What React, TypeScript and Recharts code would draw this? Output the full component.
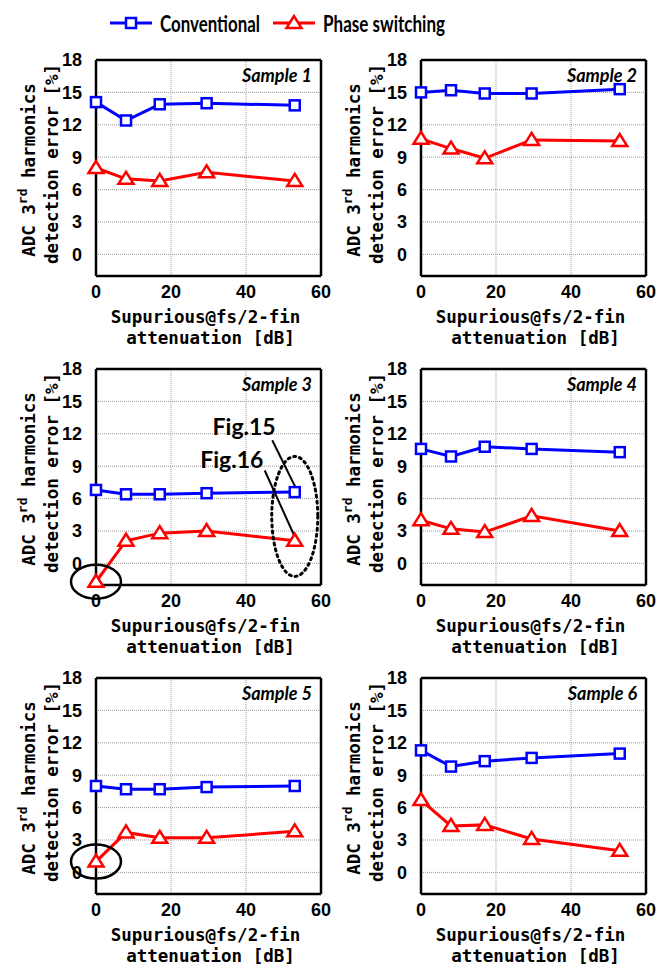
import React from 'react';
import { CartesianGrid, Line, LineChart, ReferenceDot, ReferenceLine, XAxis, YAxis } from 'recharts';

// x positions shared by every sample
const ATTENUATION_DB = [0, 8, 17, 29.5, 53];
const X_TICKS = [0, 20, 40, 60];
const Y_TICKS = [0, 3, 6, 9, 12, 15, 18];
const SERIES_NAMES = ['Conventional', 'Phase switching'];
const SAMPLE_NAMES = ['Sample 1', 'Sample 2', 'Sample 3', 'Sample 4', 'Sample 5', 'Sample 6'];

const CONV_S1 = [14.1, 12.4, 13.9, 14.0, 13.8];
const PHASE_S1 = [8.0, 7.0, 6.8, 7.6, 6.8];
const CONV_S2 = [15.0, 15.2, 14.9, 14.9, 15.3];
const PHASE_S2 = [10.7, 9.8, 8.9, 10.6, 10.5];
const CONV_S3 = [6.8, 6.4, 6.4, 6.5, 6.6];
const PHASE_S3 = [-1.7, 2.1, 2.8, 3.0, 2.1];
const CONV_S4 = [10.6, 9.9, 10.8, 10.6, 10.3];
const PHASE_S4 = [4.0, 3.2, 2.9, 4.4, 3.0];
const CONV_S5 = [8.0, 7.7, 7.7, 7.9, 8.0];
const PHASE_S5 = [1.0, 3.7, 3.2, 3.2, 3.8];
const CONV_S6 = [11.3, 9.8, 10.3, 10.6, 11.0];
const PHASE_S6 = [6.7, 4.3, 4.4, 3.1, 2.0];

const BLUE = '#0000ff';
const RED = '#ff0000';
const MONO = '"DejaVu Sans Mono", monospace';
const ARIAL = '"Liberation Sans", Arial, sans-serif';
const CALIBRI = 'Lato, "Open Sans", sans-serif';

const PANELS = [
  { name: SAMPLE_NAMES[0], conv: CONV_S1, phase: PHASE_S1 },
  { name: SAMPLE_NAMES[1], conv: CONV_S2, phase: PHASE_S2 },
  { name: SAMPLE_NAMES[2], conv: CONV_S3, phase: PHASE_S3 },
  { name: SAMPLE_NAMES[3], conv: CONV_S4, phase: PHASE_S4 },
  { name: SAMPLE_NAMES[4], conv: CONV_S5, phase: PHASE_S5 },
  { name: SAMPLE_NAMES[5], conv: CONV_S6, phase: PHASE_S6 },
];

// annotation callouts on Sample 3
const CALLOUTS = [
  { text: 'Fig.15', at: [39.5, 11.9], from: [47, 11.4], to: [53.4, 6.9] },
  { text: 'Fig.16', at: [36.2, 8.8], from: [45, 8.6], to: [53.1, 2.4] },
];

const square = (p: any) =>
  p.cx == null ? null : (
    <rect key={`sq-${p.index}`} x={p.cx - 5} y={p.cy - 5} width={10} height={10} fill="#fff" stroke={BLUE} strokeWidth={2.5} />
  );

const triangle = (p: any) =>
  p.cx == null ? null : (
    <polygon
      key={`tr-${p.index}`}
      points={`${p.cx},${p.cy - 7} ${p.cx - 7.5},${p.cy + 5} ${p.cx + 7.5},${p.cy + 5}`}
      fill="#fff"
      stroke={RED}
      strokeWidth={2.5}
      strokeLinejoin="miter"
    />
  );

const YTitle = (props: any) => {
  const vb = props.viewBox || { x: 36, y: 30, width: 60, height: 216 };
  const right = vb.x + vb.width;
  const cy = vb.y + vb.height / 2;
  const style = { fontFamily: MONO, fontWeight: 'bold' as const, fontSize: 17.5, fill: '#000' };
  return (
    <g>
      <text transform={`translate(${right - 67},${cy + 2}) rotate(-90)`} textAnchor="middle" dominantBaseline="central" {...style}>
        ADC 3<tspan dy={-7} fontSize={13}>rd</tspan>
        <tspan dy={7}> harmonics</tspan>
      </text>
      <text transform={`translate(${right - 44},${cy - 4}) rotate(-90)`} textAnchor="middle" dominantBaseline="central" {...style}>
        detection error [%]
      </text>
    </g>
  );
};

const XTitle = (props: any) => {
  const vb = props.viewBox || { x: 96, y: 246, width: 225, height: 30 };
  const cx = vb.x + vb.width / 2;
  const style = { fontFamily: MONO, fontWeight: 'bold' as const, fontSize: 17.5, fill: '#000' };
  return (
    <g>
      <text x={cx - 3} y={vb.y + 41} textAnchor="middle" dominantBaseline="central" {...style}>
        Supurious@fs/2-fin
      </text>
      <text x={cx + 2} y={vb.y + 62} textAnchor="middle" dominantBaseline="central" {...style}>
        attenuation [dB]
      </text>
    </g>
  );
};

const SampleTag = (props: any) => {
  const vb = props.viewBox || { x: 96, y: 20, width: 225, height: 10 };
  return (
    <text
      x={vb.x + vb.width - 9}
      y={vb.y + vb.height + 15}
      textAnchor="end"
      dominantBaseline="central"
      fontFamily={CALIBRI}
      fontStyle="italic"
      fontWeight="bold"
      fontSize={18}
      fill="#000"
    >
      {props.name}
    </text>
  );
};

const Panel = ({ idx }: { idx: number }) => {
  const p = PANELS[idx];
  const data = ATTENUATION_DB.map((x, i) => ({ x, conv: p.conv[i], phase: p.phase[i] }));
  const tickStyle = { fontFamily: ARIAL, fontWeight: 'bold', fontSize: 18, fill: '#000' };
  return (
    <LineChart width={335} height={340} data={data} margin={{ top: 20, right: 4, bottom: 64, left: 36 }}>
      <CartesianGrid stroke="#999" strokeDasharray="1 1" strokeWidth={1} />
      <XAxis
        dataKey="x"
        type="number"
        domain={[0, 60]}
        ticks={X_TICKS}
        height={30}
        tick={tickStyle}
        tickLine={false}
        tickMargin={3}
        axisLine={{ stroke: '#000', strokeWidth: 2.5 }}
        label={<XTitle />}
      />
      <XAxis
        xAxisId="top"
        orientation="top"
        type="number"
        domain={[0, 60]}
        ticks={X_TICKS}
        height={10}
        tick={false}
        tickSize={4}
        tickLine={{ stroke: '#000' }}
        axisLine={{ stroke: '#000', strokeWidth: 2.5 }}
        label={<SampleTag name={p.name} />}
      />
      <YAxis
        type="number"
        domain={[-2, 18]}
        ticks={Y_TICKS}
        width={60}
        tick={tickStyle}
        tickLine={false}
        tickMargin={8}
        axisLine={{ stroke: '#000', strokeWidth: 2.5 }}
        label={<YTitle />}
      />
      <YAxis
        yAxisId="right"
        orientation="right"
        type="number"
        domain={[-2, 18]}
        ticks={Y_TICKS}
        width={10}
        tick={false}
        tickSize={4}
        tickLine={{ stroke: '#000' }}
        axisLine={{ stroke: '#000', strokeWidth: 2.5 }}
      />
      <Line
        dataKey="conv"
        name={SERIES_NAMES[0]}
        stroke={BLUE}
        strokeWidth={3}
        dot={square}
        activeDot={false}
        isAnimationActive={false}
      />
      <Line
        dataKey="phase"
        name={SERIES_NAMES[1]}
        stroke={RED}
        strokeWidth={3}
        dot={triangle}
        activeDot={false}
        isAnimationActive={false}
      />
      {(idx === 2 || idx === 4) && (
        <ReferenceDot
          x={ATTENUATION_DB[0]}
          y={p.phase[0]}
          ifOverflow="visible"
          shape={(s: any) => <ellipse cx={s.cx} cy={s.cy} rx={25} ry={17} fill="none" stroke="#000" strokeWidth={2.5} />}
        />
      )}
      {idx === 2 && (
        <ReferenceDot
          x={ATTENUATION_DB[4]}
          y={(p.conv[4] + p.phase[4]) / 2}
          ifOverflow="visible"
          shape={(s: any) => (
            <ellipse cx={s.cx} cy={s.cy} rx={23} ry={60} fill="none" stroke="#000" strokeWidth={3} strokeDasharray="2 4" strokeLinecap="round" />
          )}
        />
      )}
      {idx === 2 &&
        CALLOUTS.map((c) => (
          <ReferenceLine
            key={`l-${c.text}`}
            segment={[{ x: c.from[0], y: c.from[1] }, { x: c.to[0], y: c.to[1] }]}
            stroke="#000"
            strokeWidth={2}
            ifOverflow="visible"
          />
        ))}
      {idx === 2 &&
        CALLOUTS.map((c) => (
          <ReferenceDot
            key={`t-${c.text}`}
            x={c.at[0]}
            y={c.at[1]}
            ifOverflow="visible"
            shape={(s: any) => (
              <text x={s.cx} y={s.cy} textAnchor="middle" fontFamily={CALIBRI} fontWeight="bold" fontSize={23} fill="#000">
                {c.text}
              </text>
            )}
          />
        ))}
    </LineChart>
  );
};

const LegendBar = () => (
  <svg width={670} height={45} style={{ position: 'absolute', left: 0, top: 0 }}>
    <line x1={110} y1={23} x2={152} y2={23} stroke={BLUE} strokeWidth={3} />
    <rect x={126} y={18} width={10} height={10} fill="#fff" stroke={BLUE} strokeWidth={2.5} />
    <text
      x={160}
      y={23}
      dominantBaseline="central"
      fontFamily={CALIBRI}
      fontWeight="bold"
      fontSize={22}
      textLength={100}
      lengthAdjust="spacingAndGlyphs"
      fill="#000"
    >
      {SERIES_NAMES[0]}
    </text>
    <line x1={273} y1={23} x2={315} y2={23} stroke={RED} strokeWidth={3} />
    <polygon points="294,16 286.5,28 301.5,28" fill="#fff" stroke={RED} strokeWidth={2.5} />
    <text
      x={323}
      y={23}
      dominantBaseline="central"
      fontFamily={CALIBRI}
      fontWeight="bold"
      fontSize={22}
      textLength={122}
      lengthAdjust="spacingAndGlyphs"
      fill="#000"
    >
      {SERIES_NAMES[1]}
    </text>
  </svg>
);

export default function App() {
  return (
    <div style={{ position: 'absolute', left: 0, top: 0, width: 670, height: 966, background: '#fff' }}>
      <LegendBar />
      {PANELS.map((_, i) => (
        <div
          key={i}
          style={{ position: 'absolute', left: (i % 2) * 325, top: 30 + Math.floor(i / 2) * 309, width: 335, height: 340 }}
        >
          <Panel idx={i} />
        </div>
      ))}
    </div>
  );
}
